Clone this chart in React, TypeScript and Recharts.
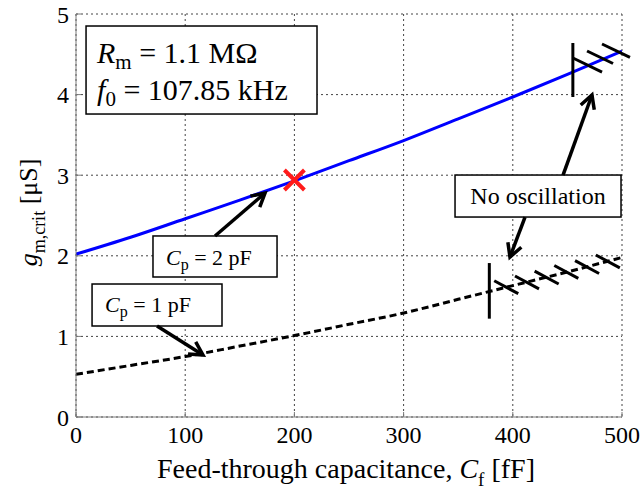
import React from 'react';
import {
  ComposedChart,
  Line,
  Scatter,
  XAxis,
  YAxis,
  CartesianGrid,
  ReferenceLine,
  ReferenceArea,
} from 'recharts';

// ---------- data ----------
const capacitance = [0, 50, 100, 150, 200, 250, 300, 350, 400, 450, 500];
const gmCp2 = [2.02, 2.23, 2.46, 2.69, 2.93, 3.18, 3.43, 3.7, 3.97, 4.25, 4.54];
const gmCp1 = [0.53, 0.64, 0.75, 0.88, 1.01, 1.15, 1.29, 1.46, 1.63, 1.8, 1.98];
const xTicks = [0, 100, 200, 300, 400, 500];
const yTicks = [0, 1, 2, 3, 4, 5];
const criticalPoint = [{ cf: 200, gm: 2.94 }];

// annotation geometry in data units
const cp2StopTick = { x1: 455, y1: 3.97, x2: 455, y2: 4.64 };
const cp2Hatches = [
  { x1: 455.1, y1: 4.454, x2: 481.7, y2: 4.28 },
  { x1: 468.0, y1: 4.541, x2: 491.8, y2: 4.386 },
  { x1: 481.7, y1: 4.628, x2: 507.3, y2: 4.463 },
];
const cp1StopTick = { x1: 378.5, y1: 1.22, x2: 378.5, y2: 1.91 };
const cp1Hatches = [
  { x1: 383, y1: 1.69, x2: 405, y2: 1.53 },
  { x1: 402, y1: 1.75, x2: 424, y2: 1.59 },
  { x1: 420, y1: 1.81, x2: 442, y2: 1.65 },
  { x1: 438, y1: 1.88, x2: 460, y2: 1.72 },
  { x1: 457, y1: 1.94, x2: 479, y2: 1.78 },
  { x1: 476, y1: 2.01, x2: 498, y2: 1.85 },
];
const arrows = [
  { x1: 127.3, y1: 2.246, x2: 173.1, y2: 2.779 },
  { x1: 74.2, y1: 1.129, x2: 116.3, y2: 0.769 },
  { x1: 411.2, y1: 2.481, x2: 397.4, y2: 1.985 },
  { x1: 446.0, y1: 3.002, x2: 472.5, y2: 3.995 },
];
const titleBox = { x1: 9.2, x2: 220.7, y1: 3.759, y2: 4.851 };
const cp2Box = { x1: 70.5, x2: 184.1, y1: 1.737, y2: 2.246 };
const cp1Box = { x1: 14.7, x2: 133.7, y1: 1.129, y2: 1.65 };
const noOscBox = { x1: 347.1, x2: 499.1, y1: 2.481, y2: 3.002 };

const table = capacitance.map((cf, i) => ({ cf, cp2: gmCp2[i], cp1: gmCp1[i] }));

// ---------- styling ----------
const FONT = '"Liberation Serif", "Times New Roman", "DejaVu Serif", serif';
const AXIS = '#7a7a7a';

const Stroke = (p: any) => (
  <line x1={p.x1} y1={p.y1} x2={p.x2} y2={p.y2} stroke="#000" strokeWidth={3} />
);

const Arrow = (p: any) => {
  const { x1, y1, x2, y2 } = p;
  const ang = Math.atan2(y2 - y1, x2 - x1);
  const L = 15;
  const a = 0.5;
  const ax = x2 - L * Math.cos(ang - a);
  const ay = y2 - L * Math.sin(ang - a);
  const bx = x2 - L * Math.cos(ang + a);
  const by = y2 - L * Math.sin(ang + a);
  return (
    <g>
      <line x1={x1} y1={y1} x2={x2} y2={y2} stroke="#000" strokeWidth={3.5} />
      <polyline
        points={`${ax},${ay} ${x2},${y2} ${bx},${by}`}
        fill="none"
        stroke="#000"
        strokeWidth={3.5}
        strokeLinejoin="miter"
      />
    </g>
  );
};

const makeBox = (render: (p: any) => React.ReactNode) => (p: any) => (
  <g>
    <rect x={p.x} y={p.y} width={p.width} height={p.height} fill="#fff" stroke="#000" strokeWidth={1.5} />
    {render(p)}
  </g>
);

const TitleShape = makeBox((p) => (
  <text fontFamily={FONT} fontSize={30} fill="#000">
    <tspan x={p.x + 11} y={p.y + 37} fontStyle="italic">R</tspan>
    <tspan fontSize={21} dy={6}>m</tspan>
    <tspan dy={-6}>{' = 1.1 MΩ'}</tspan>
    <tspan x={p.x + 11} y={p.y + 74} fontStyle="italic">f</tspan>
    <tspan fontSize={21} dy={6}>0</tspan>
    <tspan dy={-6}>{' = 107.85 kHz'}</tspan>
  </text>
));

const Cp2Shape = makeBox((p) => (
  <text x={p.x + 13} y={p.y + 29} fontFamily={FONT} fontSize={22} fill="#000">
    <tspan fontStyle="italic">C</tspan>
    <tspan fontSize={16} dy={5}>p</tspan>
    <tspan dy={-5}>{' = 2 pF'}</tspan>
  </text>
));

const Cp1Shape = makeBox((p) => (
  <text x={p.x + 13} y={p.y + 28} fontFamily={FONT} fontSize={22} fill="#000">
    <tspan fontStyle="italic">C</tspan>
    <tspan fontSize={16} dy={5}>p</tspan>
    <tspan dy={-5}>{' = 1 pF'}</tspan>
  </text>
));

const NoOscShape = makeBox((p) => (
  <text x={p.x + p.width / 2} y={p.y + 29} textAnchor="middle" fontFamily={FONT} fontSize={24} fill="#000">
    No oscillation
  </text>
));

const RedCross = (p: any) => {
  const { cx, cy } = p;
  const s = 10;
  return (
    <g stroke="#ff1a1a" strokeWidth={4}>
      <line x1={cx - s} y1={cy - s} x2={cx + s} y2={cy + s} />
      <line x1={cx - s} y1={cy + s} x2={cx + s} y2={cy - s} />
    </g>
  );
};

const XLabel = (props: any) => {
  const vb = props.viewBox || { x: 76, y: 417, width: 546, height: 73 };
  const cx = vb.x + vb.width / 2 - 3;
  const y = vb.y + 61;
  return (
    <text x={cx} y={y} textAnchor="middle" fontFamily={FONT} fontSize={28} fill="#000">
      {'Feed-through capacitance, '}
      <tspan fontStyle="italic">C</tspan>
      <tspan fontSize={19} dy={8}>f</tspan>
      <tspan dy={-8}>{' [fF]'}</tspan>
    </text>
  );
};

const YLabel = (props: any) => {
  const vb = props.viewBox || { x: 0, y: 14, width: 76, height: 403 };
  const x = vb.x + 37;
  const y = vb.y + vb.height / 2 - 3;
  return (
    <text
      x={x}
      y={y}
      transform={`rotate(-90 ${x} ${y})`}
      textAnchor="middle"
      fontFamily={FONT}
      fontSize={26}
      fill="#000"
    >
      <tspan fontStyle="italic">g</tspan>
      <tspan fontSize={18} dy={8}>m,crit</tspan>
      <tspan dy={-8}>{' [μS]'}</tspan>
    </text>
  );
};

const tickStyle = { fontFamily: FONT, fontSize: 24, fill: '#000' };

export default function App() {
  return (
    <div style={{ position: 'absolute', left: 0, top: 0, width: 643, height: 490, background: '#fff' }}>
      <ComposedChart
        width={643}
        height={490}
        data={table}
        margin={{ top: 14, right: 21, bottom: 0, left: 0 }}
      >
        <CartesianGrid stroke="#444" strokeDasharray="2 3" strokeWidth={1} />
        <XAxis
          dataKey="cf"
          type="number"
          domain={[0, 500]}
          ticks={xTicks}
          allowDataOverflow
          height={73}
          stroke={AXIS}
          tickSize={-5}
          tickMargin={14}
          tick={tickStyle}
          label={{ content: XLabel }}
        />
        <XAxis
          xAxisId="top"
          orientation="top"
          type="number"
          domain={[0, 500]}
          ticks={xTicks}
          height={0}
          stroke={AXIS}
          tickSize={-5}
          tick={false}
        />
        <YAxis
          type="number"
          domain={[0, 5]}
          ticks={yTicks}
          allowDataOverflow
          width={76}
          stroke={AXIS}
          tickSize={-5}
          tickMargin={12}
          tick={tickStyle}
          label={{ content: YLabel }}
        />
        <YAxis
          yAxisId="right"
          orientation="right"
          type="number"
          domain={[0, 5]}
          ticks={yTicks}
          width={0}
          stroke={AXIS}
          tickSize={-5}
          tick={false}
        />
        <Line
          dataKey="cp1"
          type="monotone"
          stroke="#000"
          strokeWidth={3}
          strokeDasharray="7 4"
          dot={false}
          isAnimationActive={false}
        />
        <Line
          dataKey="cp2"
          type="monotone"
          stroke="#0000ff"
          strokeWidth={3}
          dot={false}
          isAnimationActive={false}
        />
        <Scatter data={criticalPoint} dataKey="gm" shape={RedCross} isAnimationActive={false} />

        <ReferenceLine segment={[{ x: cp2StopTick.x1, y: cp2StopTick.y1 }, { x: cp2StopTick.x2, y: cp2StopTick.y2 }]} shape={Stroke} ifOverflow="visible" />
        {cp2Hatches.map((h, i) => (
          <ReferenceLine key={`h2-${i}`} segment={[{ x: h.x1, y: h.y1 }, { x: h.x2, y: h.y2 }]} shape={Stroke} ifOverflow="visible" />
        ))}
        <ReferenceLine segment={[{ x: cp1StopTick.x1, y: cp1StopTick.y1 }, { x: cp1StopTick.x2, y: cp1StopTick.y2 }]} shape={Stroke} ifOverflow="visible" />
        {cp1Hatches.map((h, i) => (
          <ReferenceLine key={`h1-${i}`} segment={[{ x: h.x1, y: h.y1 }, { x: h.x2, y: h.y2 }]} shape={Stroke} ifOverflow="visible" />
        ))}

        <ReferenceArea {...titleBox} shape={TitleShape} ifOverflow="visible" />
        <ReferenceArea {...cp2Box} shape={Cp2Shape} ifOverflow="visible" />
        <ReferenceArea {...cp1Box} shape={Cp1Shape} ifOverflow="visible" />
        <ReferenceArea {...noOscBox} shape={NoOscShape} ifOverflow="visible" />

        {arrows.map((a, i) => (
          <ReferenceLine key={`a-${i}`} segment={[{ x: a.x1, y: a.y1 }, { x: a.x2, y: a.y2 }]} shape={Arrow} ifOverflow="visible" />
        ))}
      </ComposedChart>
    </div>
  );
}
